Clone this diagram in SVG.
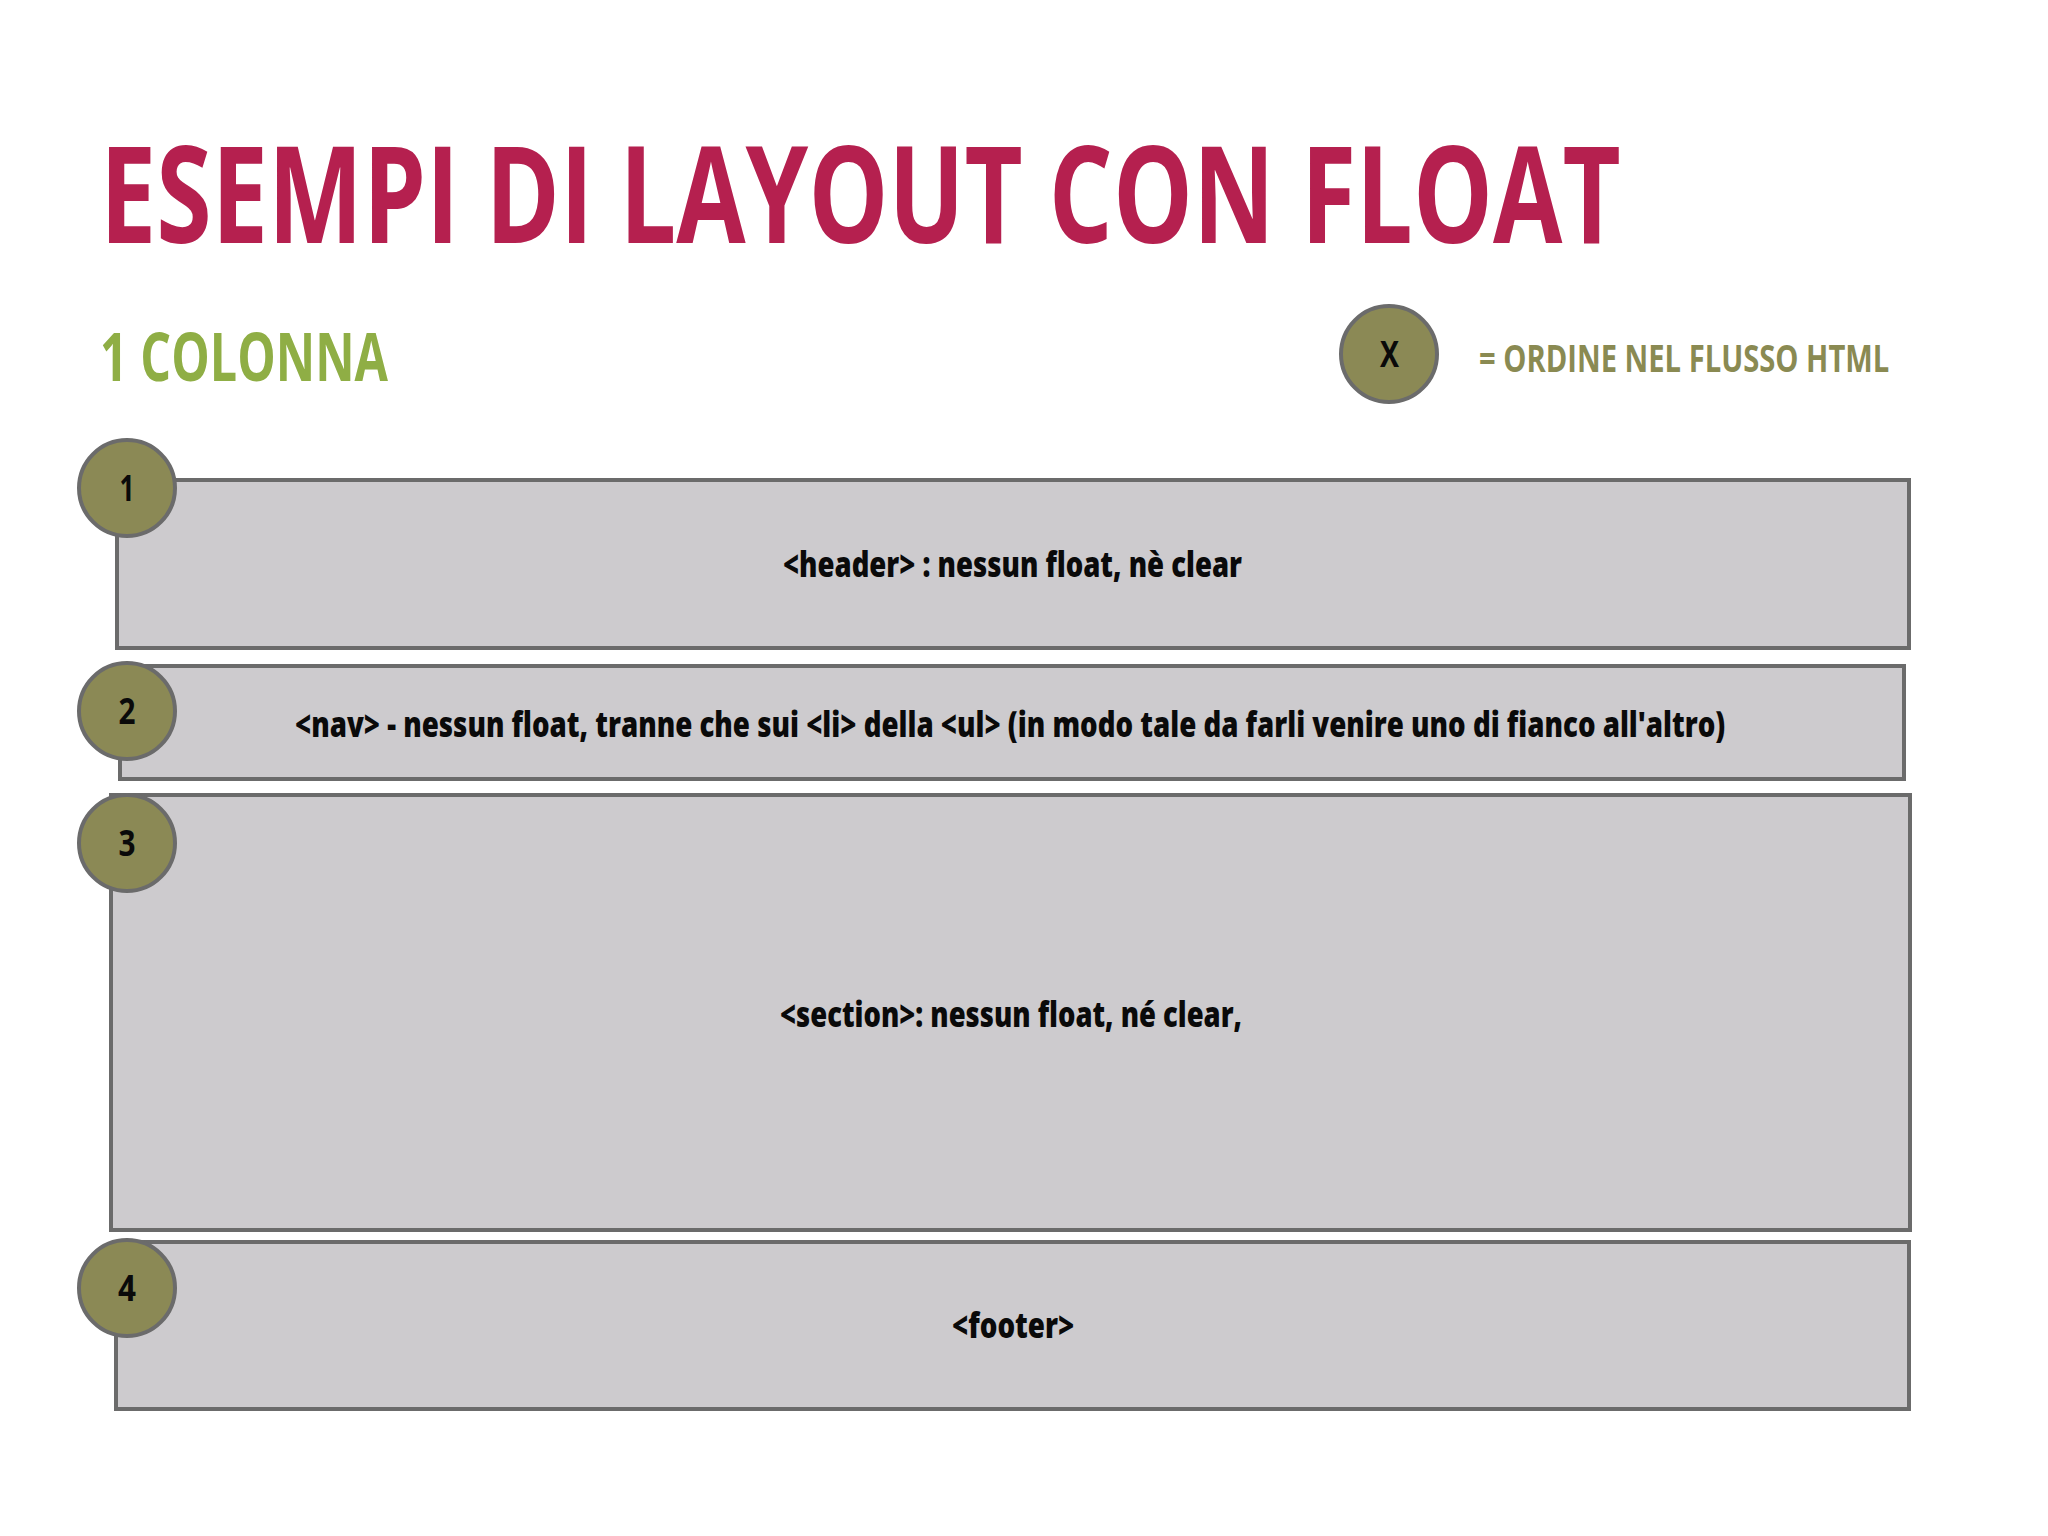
<svg xmlns="http://www.w3.org/2000/svg" width="2048" height="1536" viewBox="0 0 2048 1536">
<style>
.box{fill:#cdcbce;stroke:#6b6b6b;stroke-width:4}
.badge{fill:#8b8955;stroke:#6b6b6b;stroke-width:4}
.t{font-family:"Open Sans","Liberation Sans",sans-serif;font-weight:bold}
.lbl{font-size:35px;fill:#0a0a0a;font-weight:800}
.num{font-size:36px;fill:#0a0a0a;text-anchor:middle}
</style>
<rect width="2048" height="1536" fill="#ffffff"/>
<g id="title">
<text class="t" transform="translate(100,243) scale(0.72,1)" font-size="134" fill="#b5204f" textLength="2112" lengthAdjust="spacingAndGlyphs">ESEMPI DI LAYOUT CON FLOAT</text>
</g>
<g id="subtitle">
<text class="t" transform="translate(100,381) scale(0.75,1)" font-size="67" fill="#8fae45" textLength="384" lengthAdjust="spacingAndGlyphs">1 COLONNA</text>
</g>
<g id="legend">
<circle class="badge" cx="1389" cy="354" r="48"/>
<text class="t num" x="1389.5" y="367" font-size="38" textLength="19" lengthAdjust="spacingAndGlyphs">X</text>
<text class="t" transform="translate(1479,372) scale(0.75,1)" font-size="38" fill="#8a8a52" textLength="547" lengthAdjust="spacingAndGlyphs">= ORDINE NEL FLUSSO HTML</text>
</g>
<g id="header">
<rect class="box" x="117" y="480" width="1792" height="168"/>
<text class="t lbl" transform="translate(783,577) scale(0.75,1)" textLength="612" lengthAdjust="spacingAndGlyphs">&lt;header&gt; : nessun float, nè clear</text>
</g>
<g id="nav">
<rect class="box" x="120" y="666" width="1784" height="113"/>
<text class="t lbl" transform="translate(295,737) scale(0.75,1)" textLength="1907" lengthAdjust="spacingAndGlyphs">&lt;nav&gt; - nessun float, tranne che sui &lt;li&gt; della &lt;ul&gt; (in modo tale da farli venire uno di fianco all'altro)</text>
</g>
<g id="section">
<rect class="box" x="111" y="795" width="1799" height="435"/>
<text class="t lbl" transform="translate(780,1027) scale(0.75,1)" textLength="616" lengthAdjust="spacingAndGlyphs">&lt;section&gt;: nessun float, né clear,</text>
</g>
<g id="footer">
<rect class="box" x="116" y="1242" width="1793" height="167"/>
<text class="t lbl" transform="translate(952,1338) scale(0.75,1)" textLength="163" lengthAdjust="spacingAndGlyphs">&lt;footer&gt;</text>
</g>
<g id="badge1">
<circle class="badge" cx="127" cy="488" r="48"/>
<text class="t num" x="127" y="501" textLength="15" lengthAdjust="spacingAndGlyphs">1</text>
</g>
<g id="badge2">
<circle class="badge" cx="127" cy="711" r="48"/>
<text class="t num" x="127" y="724" textLength="17" lengthAdjust="spacingAndGlyphs">2</text>
</g>
<g id="badge3">
<circle class="badge" cx="127" cy="843" r="48"/>
<text class="t num" x="127" y="856" textLength="17" lengthAdjust="spacingAndGlyphs">3</text>
</g>
<g id="badge4">
<circle class="badge" cx="127" cy="1288" r="48"/>
<text class="t num" x="127" y="1301" textLength="18" lengthAdjust="spacingAndGlyphs">4</text>
</g>
<g id="connectors"/>
</svg>
